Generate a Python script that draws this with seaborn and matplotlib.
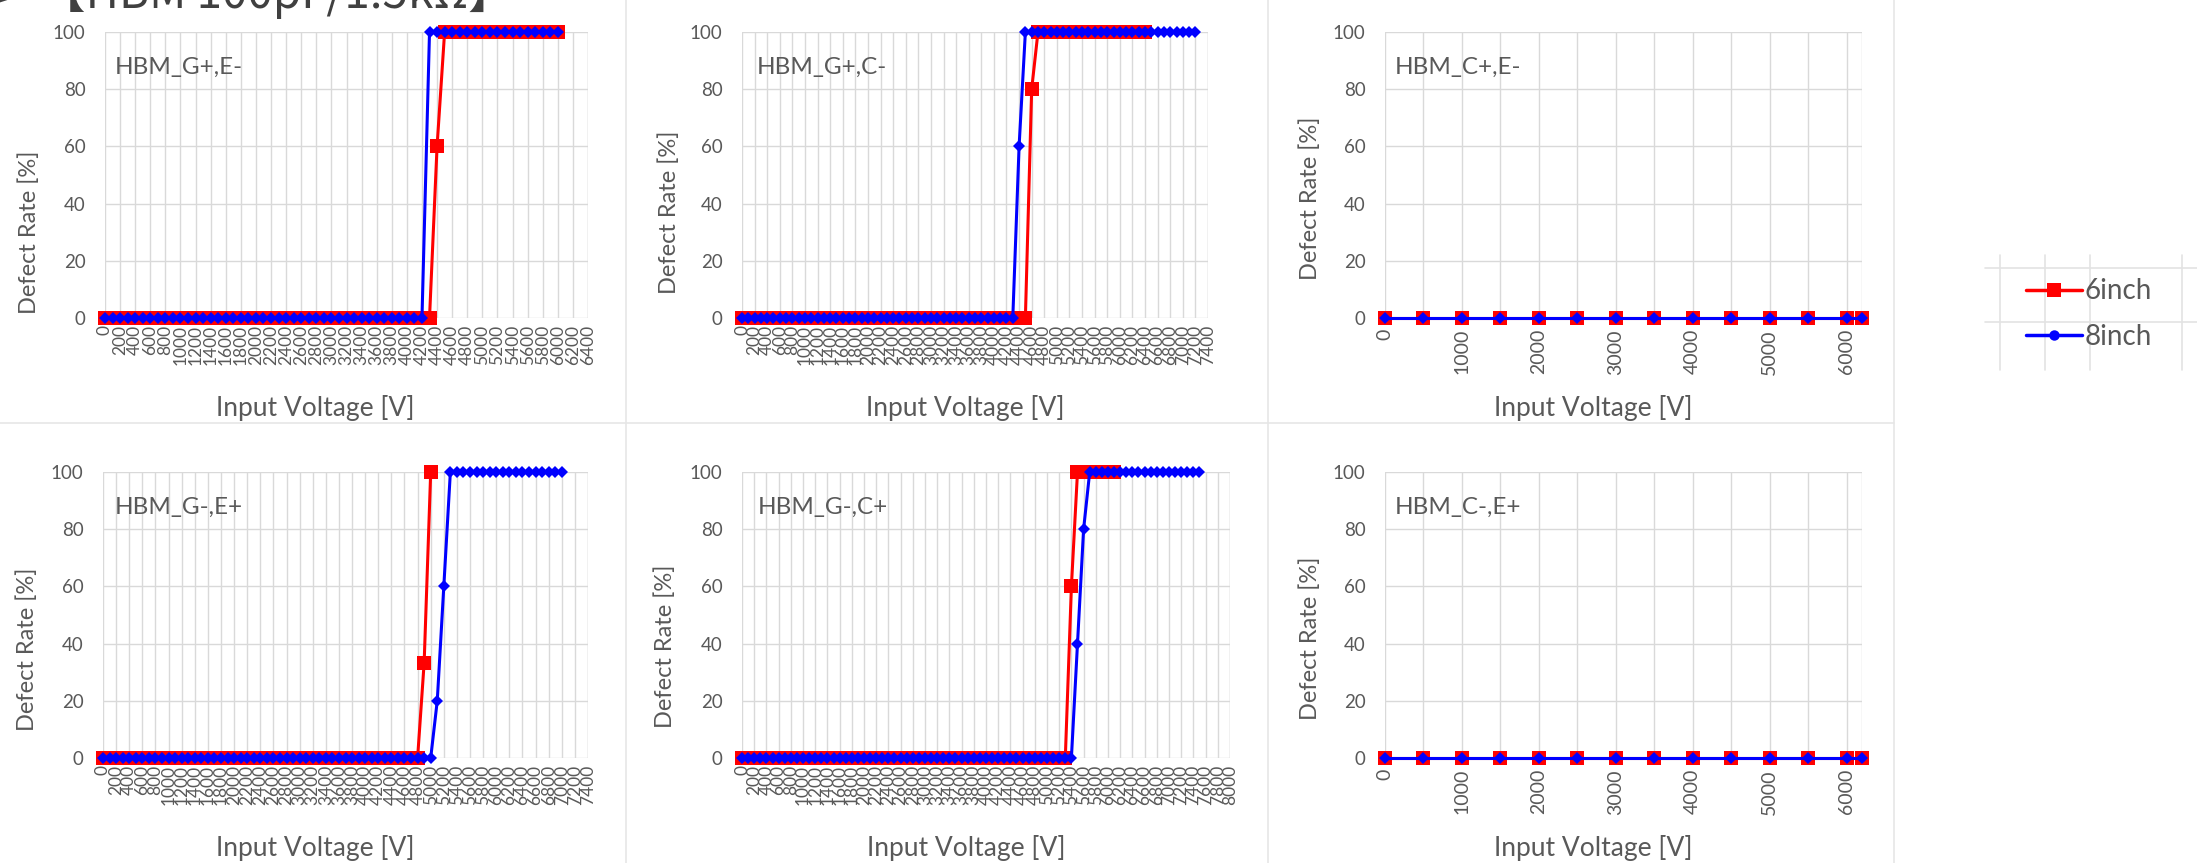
import numpy as np
import matplotlib
matplotlib.use("Agg")
import matplotlib.pyplot as plt
import seaborn as sns
from matplotlib.lines import Line2D
from matplotlib.ticker import MultipleLocator

# Data: defect rate [%] per 100 V step, starting at 0 V
series_names = ["6inch", "8inch"]
series_colors = ["#FF0000", "#0000FF"]
step_v = 100

# HBM_G+,E-
g_pos_e_6in = [0] * 44 + [60] + [100] * 16          # 0 .. 6000 V
g_pos_e_8in = [0] * 43 + [100] * 18                 # 0 .. 6000 V
# HBM_G+,C-
g_pos_c_6in = [0] * 46 + [80] + [100] * 18          # 0 .. 6400 V
g_pos_c_8in = [0] * 44 + [60] + [100] * 28          # 0 .. 7200 V
# HBM_G-,E+
g_neg_e_6in = [0] * 49 + [33.3, 100]                # 0 .. 5000 V
g_neg_e_8in = [0] * 51 + [20, 60] + [100] * 18      # 0 .. 7000 V
# HBM_G-,C+
g_neg_c_6in = [0] * 54 + [60] + [100] * 7           # 0 .. 6100 V
g_neg_c_8in = [0] * 55 + [40, 80] + [100] * 19      # 0 .. 7500 V

# HBM_C+,E- / HBM_C-,E+ : measured at 500 V steps, no failures
ce_volts = [0, 500, 1000, 1500, 2000, 2500, 3000, 3500, 4000, 4500, 5000, 5500, 6000, 6200]
c_pos_e_6in = [0, 0, 0, 0, 0, 0, 0, 0, 0, 0, 0, 0, 0, 0]
c_pos_e_8in = [0, 0, 0, 0, 0, 0, 0, 0, 0, 0, 0, 0, 0, 0]
c_neg_e_6in = [0, 0, 0, 0, 0, 0, 0, 0, 0, 0, 0, 0, 0, 0]
c_neg_e_8in = [0, 0, 0, 0, 0, 0, 0, 0, 0, 0, 0, 0, 0, 0]

W, H = 2197, 863
grey = "#595959"
grid_col = "#D9D9D9"

sns.set_style("white")
plt.rcParams["font.family"] = ["Lato", "DejaVu Sans"]

fig = plt.figure(figsize=(W / 100, H / 100), dpi=100)


def px_box(l, t, r, b):
    return [l / W, 1 - b / H, (r - l) / W, (b - t) / H]


def fig_line(x0, y0, x1, y1, color="#E6E6E6", lw=1.2):
    fig.add_artist(Line2D([x0 / W, x1 / W], [1 - y0 / H, 1 - y1 / H],
                          transform=fig.transFigure, color=color, lw=lw, zorder=0))


# faint borders of the pasted Excel charts
for x in [626, 1268, 1894]:
    fig_line(x, 0, x, 863)
fig_line(0, 423, 1894, 423)
# bits of another chart's grid around the legend
for x in [2000, 2045, 2090, 2182]:
    fig_line(x, 255, x, 370, color="#E3E3E3")
for y in [268, 322]:
    fig_line(1985, y, 2197, y, color="#E3E3E3")

panels = [
    # name, box, 6inch, 8inch, x values kind, axis max, ylabel y, xlabel x, text x
    ("HBM_G+,E-", (105, 32, 588, 318), g_pos_e_6in, g_pos_e_8in, "cat", 6400, 0.30, 0.435, 0.02),
    ("HBM_G+,C-", (742, 32, 1208, 318), g_pos_c_6in, g_pos_c_8in, "cat", 7400, 0.37, 0.48, 0.032),
    ("HBM_C+,E-", (1385, 32, 1862, 318), c_pos_e_6in, c_pos_e_8in, "num", 6200, 0.42, 0.436, 0.02),
    ("HBM_G-,E+", (103, 472, 588, 758), g_neg_e_6in, g_neg_e_8in, "cat", 7400, 0.38, 0.437, 0.025),
    ("HBM_G-,C+", (742, 472, 1230, 758), g_neg_c_6in, g_neg_c_8in, "cat", 8000, 0.39, 0.46, 0.032),
    ("HBM_C-,E+", (1385, 472, 1862, 758), c_neg_e_6in, c_neg_e_8in, "num", 6200, 0.42, 0.436, 0.02),
]

for name, box, y6, y8, kind, xmax, ylab_y, xlab_x, txt_x in panels:
    ax = fig.add_axes(px_box(*box))
    for vals, col, mk, ms in [(y6, series_colors[0], "s", 9.5), (y8, series_colors[1], "D", 6.5)]:
        if kind == "cat":
            xs = np.arange(len(vals)) * step_v
        else:
            xs = np.array(ce_volts)
        sns.lineplot(x=xs, y=vals, ax=ax, color=col, lw=2.2, marker=mk, markersize=ms,
                     markeredgewidth=0, clip_on=False, zorder=3)
    ax.set_xlim(0, xmax)
    ax.set_ylim(0, 100)
    ax.yaxis.set_major_locator(MultipleLocator(20))
    if kind == "cat":
        ax.set_xticks(np.arange(0, xmax + 1, 200))
        ax.grid(True, axis="x", color=grid_col, lw=1.0)
        ax.tick_params(axis="x", labelrotation=90, pad=5, labelsize=12.5)
    else:
        ax.set_xticks(np.arange(0, 6001, 1000))
        ax.xaxis.set_minor_locator(MultipleLocator(500))
        ax.grid(True, axis="x", which="both", color=grid_col, lw=1.0)
        ax.tick_params(axis="x", labelrotation=90, pad=8, labelsize=14)
    ax.grid(True, axis="y", color=grid_col, lw=1.0)
    ax.tick_params(axis="both", which="both", length=0, labelcolor=grey)
    ax.tick_params(axis="y", pad=14, labelsize=13.5)
    for sp in ax.spines.values():
        sp.set_visible(False)
    ax.axvline(xmax, color=grid_col, lw=1.0, zorder=0)
    ax.set_xlabel("Input Voltage [V]", fontsize=19, color=grey)
    ax.set_ylabel("Defect Rate [%]", fontsize=17, color=grey)
    ax.xaxis.set_label_coords(xlab_x, -0.315)
    ax.xaxis.label.set_va("center")
    ax.yaxis.set_label_coords(-0.157, ylab_y)
    ax.yaxis.label.set_va("center")
    ax.text(txt_x, 0.875, name, transform=ax.transAxes, fontsize=17.5, color=grey,
            ha="left", va="center")
    ax.set_facecolor("none")
    if ax.get_legend():
        ax.get_legend().remove()

handles = [
    Line2D([], [], color=series_colors[0], lw=2.5, marker="s", markersize=10, markeredgewidth=0),
    Line2D([], [], color=series_colors[1], lw=2.5, marker="o", markersize=7.5, markeredgewidth=0),
]
fig.legend(handles, series_names, loc="center left", bbox_to_anchor=(2026 / W, 1 - 314 / H),
           frameon=False, fontsize=20, labelcolor=grey, handlelength=2.0, handletextpad=0.1,
           labelspacing=0.7, borderpad=0, borderaxespad=0)

fig.text(-0.004, 1 - 8 / H, "➢ 【HBM 100pF/1.5kΩ】", fontsize=33, color="#404040",
         family=["Noto Sans CJK JP", "DejaVu Sans"], ha="left", va="baseline")

fig.savefig("out.png", dpi=100)
